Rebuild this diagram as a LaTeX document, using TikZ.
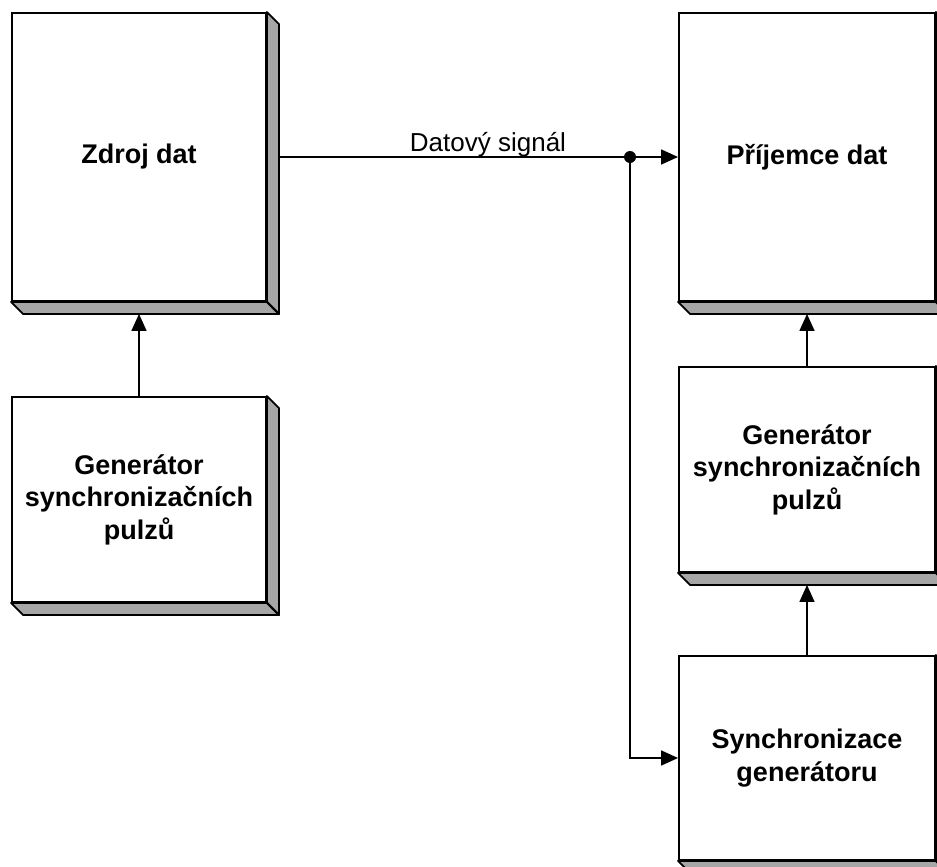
\documentclass[tikz,border=0pt]{standalone}
\usepackage{fontspec}
\setmainfont{Liberation Sans}
\usetikzlibrary{arrows.meta,calc}

\newcommand{\slabdepth}{12}

\tikzset{
  slab/.style={draw, line width=1.9pt, fill=white, align=center, inner sep=0pt,
    font=\fontsize{27}{32.5}\selectfont\bfseries},
  slabside/.style={fill=black!35, draw, line width=1.9pt, line join=round},
  wire/.style={line width=1.6pt},
  arrowwire/.style={wire, -{Triangle[length=17pt,width=15pt]}},
  signaltext/.style={font=\fontsize{26}{30}\selectfont, anchor=base},
}

% a raised block: the front face plus its shaded right side and bottom
\newcommand{\raisedblock}[1]{%
  \fill[slabside] (#1.north east) -- ++(\slabdepth,\slabdepth)
    -- ($(#1.south east)+(\slabdepth,\slabdepth)$) -- (#1.south east) -- cycle;
  \fill[slabside] (#1.south west) -- ++(\slabdepth,\slabdepth)
    -- ($(#1.south east)+(\slabdepth,\slabdepth)$) -- (#1.south east) -- cycle;
  \draw[line width=1.9pt] (#1.south east) -- ++(\slabdepth,\slabdepth);
}

\begin{document}
\begin{tikzpicture}[x=1pt,y=-1pt]
  \useasboundingbox (0,0) rectangle (937,867);
  \clip (0,0) rectangle (937,867);
  \fill[white] (0,0) rectangle (937,867);

  % source side
  \node[slab, minimum width=254pt, minimum height=288pt] (src) at (139,157) {Zdroj dat};
  \node[slab, minimum width=254pt, minimum height=205pt] (gensrc) at (139,499.5)
    {Generátor\\synchronizačních\\pulzů};
  % receiver side
  \node[slab, minimum width=256pt, minimum height=288pt] (dst) at (807,157) {Příjemce dat};
  \node[slab, minimum width=256pt, minimum height=205pt] (gendst) at (807,469.5)
    {Generátor\\synchronizačních\\pulzů};
  \node[slab, minimum width=256pt, minimum height=204pt] (sync) at (807,758)
    {Synchronizace\\generátoru};

  \raisedblock{src}
  \raisedblock{gensrc}
  \raisedblock{dst}
  \raisedblock{gendst}
  \raisedblock{sync}

  % connection points on the shaded edges
  \coordinate (srcout) at ($(src.east)+(\slabdepth,0)$);
  \coordinate (srcbase) at ($(src.south)+(0,\slabdepth)$);
  \coordinate (dstbase) at ($(dst.south)+(0,\slabdepth)$);
  \coordinate (gendstbase) at ($(gendst.south)+(0,\slabdepth)$);
  \coordinate (tap) at (630,157);
  \coordinate (tapdown) at (630,758);

  % data signal
  \draw[arrowwire] (srcout) -- (dst.west);
  \node[signaltext] (siglabel) at (488,151) {Datový signál};
  \fill (tap) circle (6pt);
  \draw[arrowwire] (tap) -- (tapdown) -- (sync.west);

  % clock paths
  \draw[arrowwire] (gensrc.north) -- (srcbase);
  \draw[arrowwire] (gendst.north) -- (dstbase);
  \draw[arrowwire] (sync.north) -- (gendstbase);
\end{tikzpicture}
\end{document}
